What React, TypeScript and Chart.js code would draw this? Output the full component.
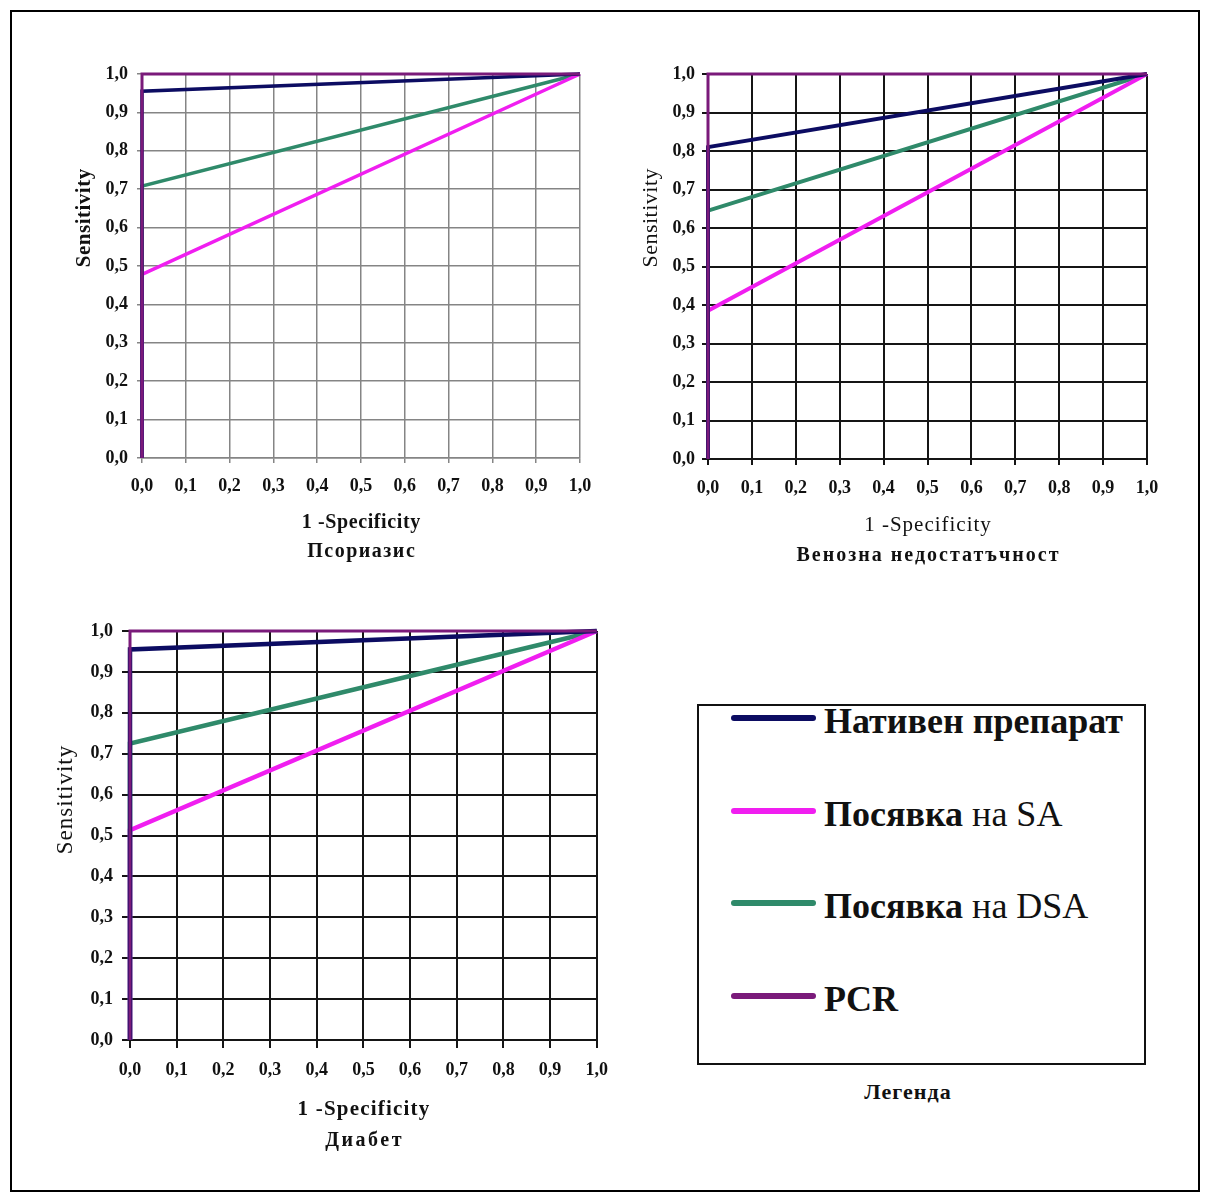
import React, { useEffect, useRef } from 'react';
import { Chart, registerables } from 'chart.js';

Chart.register(...registerables);

// ---- data ----
const seriesNames = ['Нативен препарат', 'Посявка на SA', 'Посявка на DSA', 'PCR'];
const seriesColors = ['#0c0c62', '#f01ef0', '#2f8a6a', '#7a1a7a'];
const rocFpr = [0, 0, 1];
// sensitivity at FPR = 0 for each series (ROC runs (0,0) -> (0,s) -> (1,1))
const psoriasisSens = [0.955, 0.478, 0.708, 1.0];
const venousSens = [0.81, 0.385, 0.645, 1.0];
const diabetesSens = [0.955, 0.513, 0.725, 1.0];
const axisTicks = [0, 0.1, 0.2, 0.3, 0.4, 0.5, 0.6, 0.7, 0.8, 0.9, 1.0];
const tickLabels = ['0,0', '0,1', '0,2', '0,3', '0,4', '0,5', '0,6', '0,7', '0,8', '0,9', '1,0'];
const xTitle = '1 -Specificity';
const yTitle = 'Sensitivity';
const chartNames = ['Псориазис', 'Венозна недостатъчност', 'Диабет'];
const legendTitle = 'Легенда';

const SERIF = '"Liberation Serif", "Times New Roman", serif';

type TitleLine = { text: string; dy: number; font: string; spacing: number };
type Cfg = {
  left: number; top: number; width: number; height: number;
  padTop: number; padRight: number; yAxisWidth: number; xAxisHeight: number;
  tickLength: number; yPad: number; xPad: number;
  gridColor: string; gridWidth: number;
  lineWidth: number; pcrWidth: number;
  xLines: TitleLine[];
  yLine: { text: string; dx: number; dy: number; font: string; spacing: number };
  sens: number[];
};

function makeTitlesPlugin(cfg: Cfg) {
  return {
    id: 'axisTitles',
    afterDraw(chart: any) {
      const { ctx, chartArea: a } = chart;
      ctx.save();
      ctx.fillStyle = '#111';
      ctx.textAlign = 'center';
      ctx.textBaseline = 'middle';
      for (const l of cfg.xLines) {
        ctx.font = l.font;
        (ctx as any).letterSpacing = l.spacing + 'px';
        ctx.fillText(l.text, (a.left + a.right) / 2 + l.spacing / 2, a.bottom + l.dy);
      }
      const y = cfg.yLine;
      ctx.translate(a.left - y.dx, a.top + y.dy);
      ctx.rotate(-Math.PI / 2);
      ctx.font = y.font;
      (ctx as any).letterSpacing = y.spacing + 'px';
      ctx.fillText(y.text, y.spacing / 2, 0);
      ctx.restore();
    },
  };
}

function RocChart({ cfg }: { cfg: Cfg }) {
  const ref = useRef<HTMLCanvasElement>(null);
  useEffect(() => {
    const tickFont = { family: SERIF, size: 18, weight: 'bold' as const };
    const axisCommon = (isX: boolean) => ({
      type: 'linear' as const,
      min: 0,
      max: 1,
      afterBuildTicks: (s: any) => {
        s.ticks = axisTicks.map((v) => ({ value: v }));
      },
      afterFit: (s: any) => {
        if (isX) s.height = cfg.xAxisHeight;
        else s.width = cfg.yAxisWidth;
      },
      ticks: {
        autoSkip: false,
        maxRotation: 0,
        padding: isX ? cfg.xPad : cfg.yPad,
        color: '#111',
        font: tickFont,
        callback: (_v: any, i: number) => tickLabels[i],
      },
      grid: {
        color: cfg.gridColor,
        lineWidth: cfg.gridWidth,
        tickLength: cfg.tickLength,
        drawTicks: true,
      },
      border: { color: cfg.gridColor, width: cfg.gridWidth },
      title: { display: false },
    });
    const chart = new Chart(ref.current!, {
      type: 'scatter',
      data: {
        datasets: seriesNames.map((name, i) => {
          const tpr = [0, cfg.sens[i], 1];
          return {
            label: name,
            data: rocFpr.map((x, k) => ({ x, y: tpr[k] })),
            showLine: true,
            borderColor: seriesColors[i],
            backgroundColor: seriesColors[i],
            borderWidth: i === 3 ? cfg.pcrWidth : cfg.lineWidth,
            pointRadius: 0,
            pointHoverRadius: 0,
            tension: 0,
            clip: false as any,
            order: i === 3 ? 0 : i + 1,
          };
        }),
      },
      options: {
        responsive: false,
        maintainAspectRatio: false,
        animation: false,
        layout: { padding: { left: 0, top: cfg.padTop, right: cfg.padRight, bottom: 0 } },
        plugins: { legend: { display: false }, tooltip: { enabled: false } },
        scales: { x: axisCommon(true) as any, y: axisCommon(false) as any },
      },
      plugins: [makeTitlesPlugin(cfg)],
    });
    return () => chart.destroy();
  }, []);
  return (
    <canvas
      ref={ref}
      width={cfg.width}
      height={cfg.height}
      style={{ position: 'absolute', left: cfg.left, top: cfg.top, width: cfg.width, height: cfg.height }}
    />
  );
}

const chart1: Cfg = {
  left: 20, top: 30, width: 590, height: 550,
  padTop: 44, padRight: 30, yAxisWidth: 122, xAxisHeight: 122,
  tickLength: 5, yPad: 9, xPad: 13,
  gridColor: '#858585', gridWidth: 1.5,
  lineWidth: 3.5, pcrWidth: 3,
  xLines: [
    { text: xTitle, dy: 65, font: `bold 20px ${SERIF}`, spacing: 0.6 },
    { text: chartNames[0], dy: 94, font: `bold 20px ${SERIF}`, spacing: 1.5 },
  ],
  yLine: { text: yTitle, dx: 57, dy: 144, font: `bold 21px ${SERIF}`, spacing: 0.5 },
  sens: psoriasisSens,
};

const chart2: Cfg = {
  left: 590, top: 30, width: 600, height: 550,
  padTop: 44, padRight: 43, yAxisWidth: 118, xAxisHeight: 121,
  tickLength: 6, yPad: 7, xPad: 13,
  gridColor: '#151515', gridWidth: 2,
  lineWidth: 4, pcrWidth: 3,
  xLines: [
    { text: xTitle, dy: 66, font: `21px ${SERIF}`, spacing: 1 },
    { text: chartNames[1], dy: 97, font: `bold 20px ${SERIF}`, spacing: 2 },
  ],
  yLine: { text: yTitle, dx: 57, dy: 144, font: `22px ${SERIF}`, spacing: 0.5 },
  sens: venousSens,
};

const chart3: Cfg = {
  left: 10, top: 590, width: 610, height: 580,
  padTop: 41, padRight: 23, yAxisWidth: 120, xAxisHeight: 130,
  tickLength: 8, yPad: 9, xPad: 12,
  gridColor: '#151515', gridWidth: 2,
  lineWidth: 4.5, pcrWidth: 3,
  xLines: [
    { text: xTitle, dy: 70, font: `bold 21px ${SERIF}`, spacing: 1.2 },
    { text: chartNames[2], dy: 101, font: `bold 20px ${SERIF}`, spacing: 2.5 },
  ],
  yLine: { text: yTitle, dx: 64, dy: 169, font: `23px ${SERIF}`, spacing: 1 },
  sens: diabetesSens,
};

const legendRowsY = [717.5, 811, 903, 996];

function Legend() {
  const parts: [string, string][] = [
    ['Нативен препарат', ''],
    ['Посявка', ' на SA'],
    ['Посявка', ' на DSA'],
    ['PCR', ''],
  ];
  return (
    <>
      <div
        style={{
          position: 'absolute', left: 697, top: 704, width: 449, height: 361,
          border: '2px solid #111', boxSizing: 'border-box', background: '#fff',
        }}
      />
      {seriesNames.map((name, i) => (
        <React.Fragment key={name}>
          <div
            style={{
              position: 'absolute', left: 731, top: legendRowsY[i] - 3, width: 85, height: 6,
              borderRadius: 3, background: seriesColors[i],
            }}
          />
          <div
            style={{
              position: 'absolute', left: 824, top: legendRowsY[i] + 15 - 30, whiteSpace: 'nowrap',
              fontFamily: SERIF, fontSize: 36, lineHeight: '36px', color: '#111',
            }}
          >
            <span style={{ fontWeight: 'bold' }}>{parts[i][0]}</span>
            <span style={{ fontWeight: 'normal' }}>{parts[i][1]}</span>
          </div>
        </React.Fragment>
      ))}
      <div
        style={{
          position: 'absolute', left: 828, top: 1079, width: 160, textAlign: 'center',
          fontFamily: SERIF, fontSize: 22, lineHeight: '26px', fontWeight: 'bold', color: '#111',
          letterSpacing: 1,
        }}
      >
        {legendTitle}
      </div>
    </>
  );
}

export default function App() {
  return (
    <div style={{ position: 'absolute', left: 0, top: 0, width: 1209, height: 1201, background: '#fff', overflow: 'hidden' }}>
      <div
        style={{
          position: 'absolute', left: 10, top: 10, width: 1190, height: 1182,
          border: '2px solid #000', boxSizing: 'border-box',
        }}
      />
      <RocChart cfg={chart1} />
      <RocChart cfg={chart2} />
      <RocChart cfg={chart3} />
      <Legend />
    </div>
  );
}
